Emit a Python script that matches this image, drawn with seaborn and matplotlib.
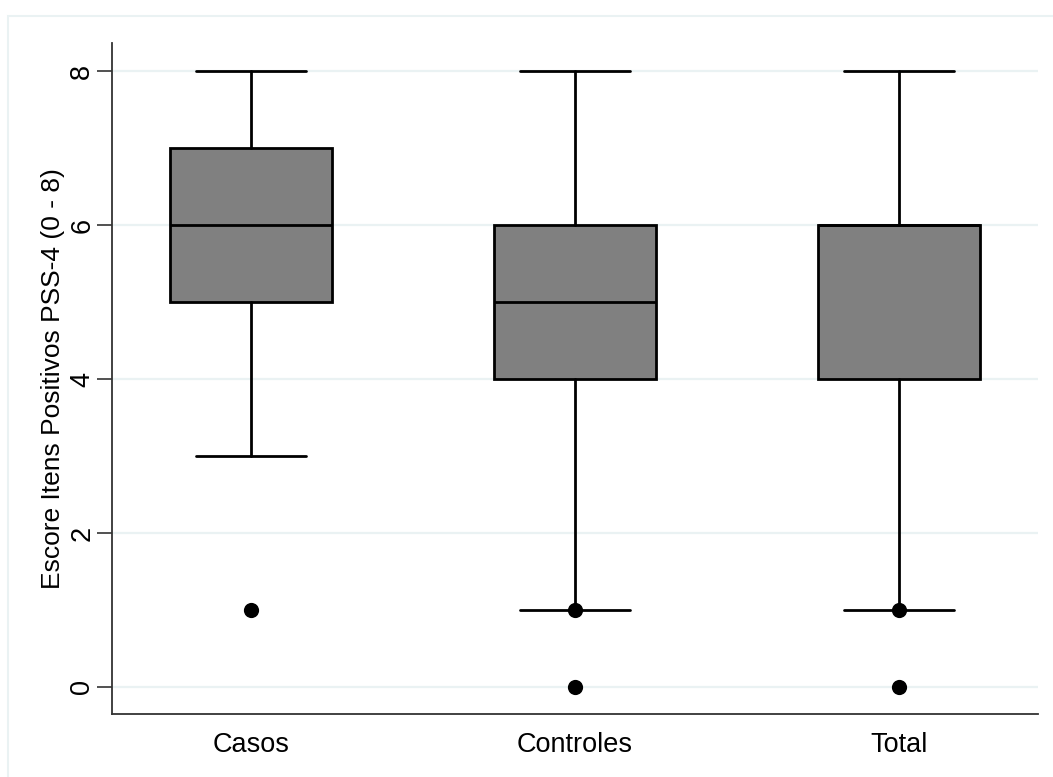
import matplotlib
matplotlib.use("Agg")
import matplotlib.pyplot as plt
from matplotlib.patches import Rectangle
import seaborn as sns
import pandas as pd

# Summary statistics for each group (PSS-4 positive items score)
groups = ["Casos", "Controles", "Total"]
whisker_low = [3, 1, 1]
q1 = [5, 4, 4]
median = [6, 5, 6]
q3 = [7, 6, 6]
whisker_high = [8, 8, 8]

# Outside values plotted as dots
outlier_group = ["Casos", "Controles", "Controles", "Total", "Total"]
outlier_value = [1, 1, 0, 1, 0]

yticks = [0, 2, 4, 6, 8]
ylabel = "Escore Itens Positivos PSS-4 (0 - 8)"

sns.set_theme(style="white")
plt.rcParams["font.family"] = ["Liberation Sans", "DejaVu Sans"]
plt.rcParams["text.color"] = "black"
plt.rcParams["axes.labelcolor"] = "black"
plt.rcParams["xtick.color"] = "black"
plt.rcParams["ytick.color"] = "black"

fig = plt.figure(figsize=(10.53, 7.77), dpi=100)
ax = fig.add_axes([112 / 1053, 1 - 714 / 777, (1038 - 112) / 1053, (714 - 43) / 777])

# light outer frame of the graph region
fig.patches.append(Rectangle((8 / 1053, -0.01), 1.02, 1 - 16 / 777 + 0.01,
                             transform=fig.transFigure, fill=False,
                             edgecolor="#eaf2f3", linewidth=1.5, zorder=0))

stats = []
for i, g in enumerate(groups):
    stats.append(dict(label=g, whislo=whisker_low[i], q1=q1[i], med=median[i],
                      q3=q3[i], whishi=whisker_high[i], fliers=[]))

lw = 2.0
positions = list(range(len(groups)))
ax.bxp(stats, positions=positions, widths=0.5, patch_artist=True,
       showfliers=False, manage_ticks=False,
       boxprops=dict(facecolor="#808080", edgecolor="black", linewidth=lw),
       medianprops=dict(color="black", linewidth=lw),
       whiskerprops=dict(color="black", linewidth=lw),
       capprops=dict(color="black", linewidth=lw),
       capwidths=0.34, zorder=3)

out_df = pd.DataFrame({"grupo": outlier_group, "valor": outlier_value})
out_df["pos"] = out_df["grupo"].map({g: i for i, g in enumerate(groups)})
sns.scatterplot(data=out_df, x="pos", y="valor", ax=ax, color="black",
                s=120, edgecolor="black", linewidth=0, zorder=4, legend=False)

ax.set_xlim(-0.43, 2.43)
ax.set_ylim(-0.351, 8.364)
ax.set_yticks(yticks)
ax.set_yticklabels([str(t) for t in yticks], rotation=90, va="center")
ax.set_xticks(positions)
ax.set_xticklabels(groups)
ax.tick_params(axis="y", length=11, width=1.2, color="#333333", labelsize=19.5,
               pad=1, left=True, labelcolor="black")
ax.tick_params(axis="x", length=0, labelsize=19.5, pad=13, labelcolor="black")
ax.grid(axis="y", color="#eaf2f3", linewidth=1.6, zorder=0)
ax.set_axisbelow(True)

ax.set_xlabel("")
ax.set_ylabel(ylabel, fontsize=19, labelpad=3, color="black")

for side in ["top", "right"]:
    ax.spines[side].set_visible(False)
for side in ["left", "bottom"]:
    ax.spines[side].set_color("#333333")
    ax.spines[side].set_linewidth(1.3)

fig.savefig("out.png", dpi=100)
